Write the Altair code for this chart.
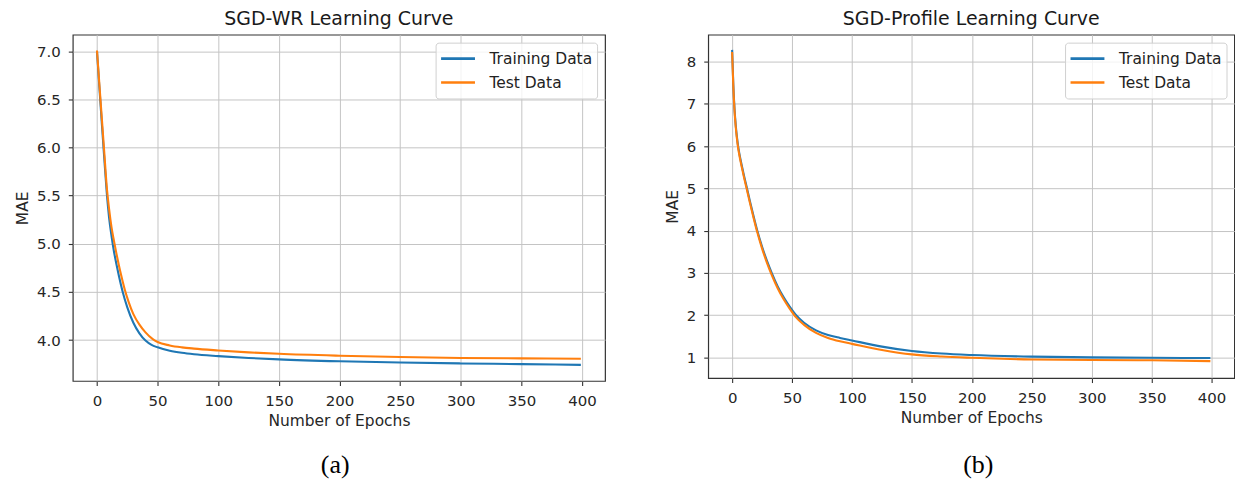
import altair as alt
import pandas as pd

# ---------------- Panel (a): SGD-WR ----------------
wr_train_epoch = [0, 2, 4, 6, 8, 10, 12, 14, 16, 18, 21, 25, 30, 35, 40, 45, 50,
                  60, 70, 80, 100, 125, 150, 200, 250, 300, 350, 399]
wr_train_mae = [7.00, 6.62, 6.25, 5.89, 5.54, 5.27, 5.08, 4.92, 4.79, 4.67, 4.51,
                4.34, 4.18, 4.07, 3.995, 3.95, 3.925, 3.89, 3.868, 3.853, 3.834,
                3.815, 3.80, 3.78, 3.767, 3.758, 3.751, 3.743]
wr_test_epoch = [0, 2, 4, 6, 8, 10, 12, 14, 16, 18, 20, 23, 26, 30, 35, 40, 46, 50,
                 60, 70, 80, 100, 125, 150, 200, 250, 300, 350, 399]
wr_test_mae = [7.007, 6.65, 6.30, 5.95, 5.60, 5.36, 5.17, 5.03, 4.90, 4.78, 4.67,
               4.52, 4.40, 4.27, 4.16, 4.08, 4.01, 3.98, 3.945, 3.925, 3.912,
               3.893, 3.873, 3.858, 3.838, 3.824, 3.815, 3.81, 3.807]

# ---------------- Panel (b): SGD-Profile ----------------
prof_epoch = [0, 1, 2, 3, 4, 5, 6, 8, 10, 12, 15, 18, 21, 25, 29, 33, 38, 43, 48,
              53, 60, 70, 80, 90, 100, 125, 150, 175, 200, 250, 300, 350, 399]
prof_train_mae = [8.28, 7.45, 6.88, 6.50, 6.22, 6.00, 5.83, 5.55, 5.29, 5.05,
                  4.68, 4.33, 4.00, 3.62, 3.29, 3.00, 2.68, 2.42, 2.20, 2.01,
                  1.82, 1.64, 1.53, 1.46, 1.40, 1.255, 1.15, 1.09, 1.055, 1.017,
                  1.00, 0.99, 0.985]
prof_test_mae = [8.23, 7.41, 6.84, 6.46, 6.18, 5.96, 5.79, 5.51, 5.25, 5.01,
                 4.64, 4.29, 3.96, 3.575, 3.245, 2.955, 2.635, 2.375, 2.155, 1.96,
                 1.77, 1.58, 1.46, 1.38, 1.32, 1.175, 1.07, 1.02, 0.99, 0.95,
                 0.937, 0.93, 0.91]

series_names = ["Training Data", "Test Data"]
series_colors = ["#1f77b4", "#ff7f0e"]
x_ticks = [0, 50, 100, 150, 200, 250, 300, 350, 400]
wr_y_ticks = [4.0, 4.5, 5.0, 5.5, 6.0, 6.5, 7.0]
prof_y_ticks = [1, 2, 3, 4, 5, 6, 7, 8]


def long_df(train_e, train_v, test_e, test_v):
    rows = [{"epoch": e, "mae": v, "series": series_names[0]} for e, v in zip(train_e, train_v)]
    rows += [{"epoch": e, "mae": v, "series": series_names[1]} for e, v in zip(test_e, test_v)]
    return pd.DataFrame(rows)


def panel(df, title, ydomain, yticks, yfmt, caption, cap_x, cap_y, w, h):
    lines = alt.Chart(df).mark_line(strokeWidth=2.1, interpolate="monotone", clip=True).encode(
        x=alt.X("epoch:Q",
                scale=alt.Scale(domain=[-19.95, 418.95], nice=False, zero=False),
                axis=alt.Axis(values=x_ticks, title="Number of Epochs", format="d",
                              labelFlush=False, labelOverlap=False)),
        y=alt.Y("mae:Q",
                scale=alt.Scale(domain=ydomain, nice=False, zero=False),
                axis=alt.Axis(values=yticks, title="MAE", format=yfmt,
                              labelFlush=False, labelOverlap=False)),
        color=alt.Color("series:N",
                        scale=alt.Scale(domain=series_names, range=series_colors),
                        legend=alt.Legend(title=None, orient="top-right", offset=8,
                                          symbolType="stroke", symbolSize=1156,
                                          symbolStrokeWidth=2.6, labelFontSize=15.5,
                                          labelFont="DejaVu Sans", labelColor="#222222",
                                          labelOffset=13, padding=4, rowPadding=0,
                                          clipHeight=24, strokeColor="#d0d0d0",
                                          fillColor="rgba(255,255,255,0.8)",
                                          cornerRadius=3)),
        order=alt.Order("series_order:Q"),
        detail="series:N",
    ).transform_calculate(series_order="datum.series == 'Training Data' ? 0 : 1")

    cap = alt.Chart(pd.DataFrame({"cap": [caption]})).mark_text(
        font="Liberation Serif", fontSize=26, color="black", align="center", baseline="middle"
    ).encode(text="cap:N", x=alt.value(cap_x), y=alt.value(cap_y))

    return alt.layer(lines, cap).properties(title=title, width=w, height=h)


left = panel(long_df(wr_train_epoch, wr_train_mae, wr_test_epoch, wr_test_mae),
             "SGD-WR Learning Curve", [3.576, 7.171], wr_y_ticks, ".1f", "(a)",
             263.3, 432, 534, 347.4)
right = panel(long_df(prof_epoch, prof_train_mae, prof_epoch, prof_test_mae),
              "SGD-Profile Learning Curve", [0.51, 8.64], prof_y_ticks, "d", "(b)",
              271, 432, 527.8, 344.5)

chart = alt.hconcat(left, right, spacing=58.5).resolve_scale(
    color="independent").resolve_legend(color="independent").properties(
    padding={"left": 7, "top": 0, "right": 0, "bottom": 0}
).configure_view(
    stroke="#333333", strokeWidth=1.2
).configure_axis(
    grid=True, gridColor="#c4c4c4", gridWidth=1, domain=False,
    tickColor="#333333", tickSize=4.5, tickWidth=1.1,
    labelFont="DejaVu Sans", labelFontSize=15, labelColor="#262626", labelPadding=8,
    titleFont="DejaVu Sans", titleFontSize=15.5, titleFontWeight="normal",
    titleColor="#262626"
).configure_axisX(titlePadding=5).configure_axisY(titlePadding=6).configure_title(
    font="DejaVu Sans", fontSize=19, fontWeight="normal", color="#1a1a1a",
    offset=6, anchor="middle"
)

chart.save("out.html", embed_options={"renderer": "svg", "actions": False})
